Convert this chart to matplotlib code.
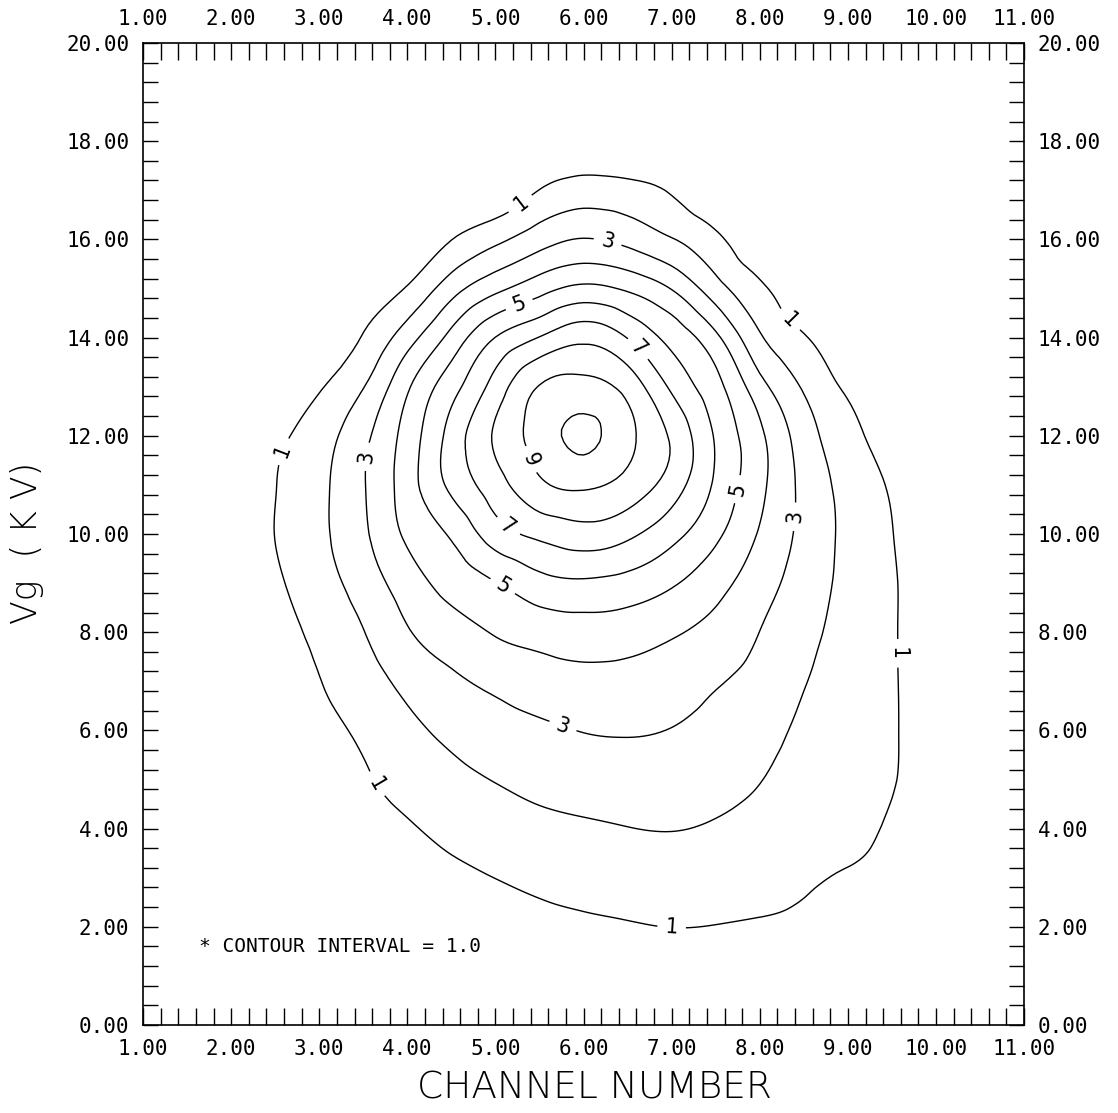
import numpy as np
import matplotlib
matplotlib.use("Agg")
import matplotlib.pyplot as plt
import matplotlib.tri as mtri
from matplotlib.ticker import MultipleLocator, FormatStrFormatter

plt.rcParams['font.family'] = ['DejaVu Sans Mono', 'DejaVu Sans']

# grid positions of the measured map
channel = [1.0, 1.5, 2.0, 2.5, 3.0, 3.5, 4.0, 4.5, 5.0, 5.5, 6.0,
           6.5, 7.0, 7.5, 8.0, 8.5, 9.0, 9.5, 10.0, 10.5, 11.0]
vg_kv = list(range(0, 21))

# one column per channel position, values from Vg = 0 kV up to Vg = 20 kV
counts_by_channel = [
    [0] * 21,
    [0] * 21,
    [0, 0, 0, 0, 0, 0, 0, 0, 0, 0.05, 0.22, 0.14, 0, 0, 0, 0, 0, 0, 0, 0, 0],
    [0, 0, 0, 0, 0, 0, 0, 0.14, 0.5, 0.81, 1.02, 0.97, 0.7, 0.1, 0, 0, 0, 0, 0, 0, 0],
    [0, 0, 0, 0, 0, 0.15, 0.55, 0.96, 1.27, 1.58, 1.81, 1.78, 1.55, 0.9, 0.3, 0, 0, 0, 0, 0, 0],
    [0, 0, 0, 0.15, 0.5, 0.85, 1.21, 1.59, 1.97, 2.45, 2.82, 2.93, 2.74, 1.96, 1.07, 0.4, 0, 0, 0, 0, 0],
    [0, 0, 0.1, 0.5, 0.91, 1.33, 1.76, 2.27, 2.92, 3.52, 4.17, 4.53, 4.41, 3.86, 2.56, 1.08, 0.2, 0, 0, 0, 0],
    [0, 0, 0.31, 0.78, 1.25, 1.72, 2.24, 2.83, 3.56, 4.33, 5.14, 6.23, 6.37, 5.62, 4.32, 2.57, 0.98, 0.1, 0, 0, 0],
    [0, 0, 0.48, 1.01, 1.52, 2.04, 2.6, 3.23, 4.07, 4.96, 6.52, 7.58, 8.13, 7.42, 6.02, 3.74, 1.76, 0.24, 0, 0, 0],
    [0, 0.14, 0.68, 1.21, 1.74, 2.28, 2.83, 3.53, 4.39, 5.66, 7.24, 8.81, 9.47, 9.05, 7.04, 4.62, 2.57, 1.02, 0.1, 0, 0],
    [0, 0.3, 0.83, 1.35, 1.87, 2.44, 3.03, 3.69, 4.56, 5.85, 7.6, 9.18, 10.2, 9.34, 7.74, 5.23, 3.04, 1.44, 0.26, 0, 0],
    [0, 0.4, 0.93, 1.46, 1.98, 2.53, 3.08, 3.67, 4.45, 5.65, 7.22, 8.65, 9.27, 8.64, 6.96, 4.85, 2.71, 1.32, 0.1, 0, 0],
    [0, 0.48, 1.01, 1.52, 2.03, 2.49, 2.97, 3.5, 4.11, 5.12, 6.33, 7.52, 7.85, 6.82, 5.68, 3.95, 2.05, 0.89, 0, 0, 0],
    [0.05, 0.51, 0.98, 1.44, 1.91, 2.3, 2.68, 3.09, 3.67, 4.35, 5.21, 5.84, 5.89, 5.32, 4.23, 2.41, 1.21, 0.17, 0, 0, 0],
    [0.1, 0.56, 0.93, 1.3, 1.67, 2.03, 2.35, 2.67, 2.99, 3.44, 3.91, 4.25, 4.2, 3.36, 2.13, 1.18, 0.28, 0, 0, 0, 0],
    [0.1, 0.45, 0.83, 1.1, 1.34, 1.58, 1.81, 2.05, 2.26, 2.53, 2.73, 2.73, 2.49, 1.89, 1.08, 0.35, 0, 0, 0, 0, 0],
    [0, 0.24, 0.62, 0.95, 1.14, 1.3, 1.44, 1.56, 1.67, 1.73, 1.75, 1.66, 1.32, 0.83, 0.2, 0, 0, 0, 0, 0, 0],
    [0, 0.15, 0.5, 0.8, 0.92, 1.04, 1.07, 1.07, 1.07, 1.07, 1.02, 0.9, 0.6, 0.3, 0, 0, 0, 0, 0, 0, 0],
    [0, 0.05, 0.2, 0.45, 0.55, 0.65, 0.63, 0.63, 0.63, 0.63, 0.55, 0.45, 0.25, 0.1, 0, 0, 0, 0, 0, 0, 0],
    [0, 0, 0, 0.2, 0.3, 0.3, 0.3, 0.3, 0.3, 0.3, 0.3, 0.2, 0, 0, 0, 0, 0, 0, 0, 0, 0],
    [0] * 21,
]

plain_levels = [2, 4, 6, 8, 10]
labelled_levels = [1, 3, 5, 7, 9]
interval_note = "* CONTOUR INTERVAL = 1.0"

# where the level numbers sit on their lines
label_spots = [
    (5.25, 16.8), (8.37, 14.42), (2.63, 11.65), (3.67, 4.93), (7.0, 2.0), (9.54, 7.57),
    (6.27, 15.93), (3.55, 11.57), (8.4, 10.35), (5.77, 6.11),
    (5.28, 14.62), (7.78, 10.9), (5.09, 8.96),
    (6.64, 13.81), (5.17, 10.22),
    (5.39, 11.51),
]

z = np.array(counts_by_channel).T

# smooth contouring of the grid (same approach as the matplotlib tricontour_smooth demo)
gx, gy = np.meshgrid(channel, vg_kv)
triang = mtri.Triangulation(gx.ravel(), gy.ravel())
refiner = mtri.UniformTriRefiner(triang)
tri_fine, z_fine = refiner.refine_field(z.ravel(), subdiv=3)

fig = plt.figure(figsize=(11.18, 11.13), dpi=100)
ax = fig.add_axes([0.128, 0.0791, 0.788, 0.8823])

ax.tricontour(tri_fine, z_fine, levels=plain_levels, colors='black', linewidths=1.0)
cs = ax.tricontour(tri_fine, z_fine, levels=labelled_levels, colors='black', linewidths=1.0)
ax.clabel(cs, manual=label_spots, inline=True, inline_spacing=8, fmt='%d', fontsize=15)

ax.set_xlim(1, 11)
ax.set_ylim(0, 20)
ax.xaxis.set_major_locator(MultipleLocator(1))
ax.xaxis.set_minor_locator(MultipleLocator(0.2))
ax.yaxis.set_major_locator(MultipleLocator(2))
ax.yaxis.set_minor_locator(MultipleLocator(0.4))
ax.xaxis.set_major_formatter(FormatStrFormatter('%.2f'))
ax.yaxis.set_major_formatter(FormatStrFormatter('%.2f'))

ax.tick_params(axis='x', which='both', direction='in', length=12, width=1,
               top=True, bottom=True, labeltop=True, labelbottom=True,
               pad=10, labelsize=15)
ax.tick_params(axis='y', which='both', direction='in', length=11, width=1,
               left=True, right=True, labelleft=True, labelright=True,
               pad=10, labelsize=15)
for s in ax.spines.values():
    s.set_linewidth(1.2)

ax.text(1.64, 1.59, interval_note, fontsize=14, va='center')

ax.set_xlabel("CHANNEL NUMBER", fontsize=27, family='DejaVu Sans', weight=200)
ax.xaxis.set_label_coords(0.512, -0.064)
ax.xaxis.label.set_va('center')
ax.set_ylabel("Vg  ( K V)", fontsize=25, family='DejaVu Sans', weight=200)
ax.yaxis.set_label_coords(-0.132, 0.491)
ax.yaxis.label.set_va('center')

fig.savefig("out.png", dpi=100)
